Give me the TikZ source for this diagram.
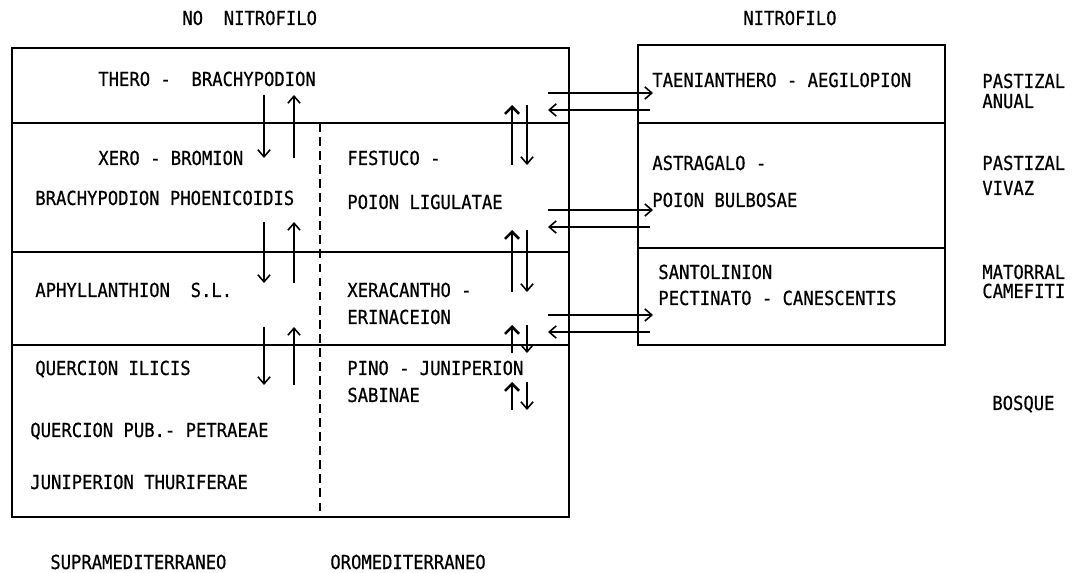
\documentclass[tikz,border=0pt]{standalone}
\usepackage{fontspec}
\setmonofont[FakeStretch=0.89,FakeBold=0.6]{DejaVu Sans Mono}
\usetikzlibrary{arrows.meta,calc,positioning}
\tikzset{
  etic/.style={font=\ttfamily\fontsize{11}{12}\selectfont, anchor=base west, inner sep=0pt},
  bordo/.style={line width=1.6pt},
  freccia/.style={line width=0.9pt, -{Straight Barb[length=4pt,width=7pt]}},
  frecciag/.style={line width=1.5pt, -{Straight Barb[length=4pt,width=8pt,line width=1.5pt]}}
}
\begin{document}
\begin{tikzpicture}[x=0.02cm,y=-0.02cm]
\useasboundingbox (0,0) rectangle (1074,573);
% riquadro no nitrofilo
\draw[bordo] (12,48) rectangle (569,517);
\foreach \y in {123,252,345}{
  \draw[bordo] (12,\y) -- (569,\y);
}
\draw[line width=0.8pt, dash pattern=on 5pt off 3pt] (320,123) -- (320,517);
% riquadro nitrofilo
\draw[bordo] (638,45) rectangle (945,345);
\foreach \y in {123,248}{
  \draw[bordo] (638,\y) -- (945,\y);
}
% testi
\foreach \nome/\x/\y/\testo in {
  nonitro/182/18/{NO\ \ NITROFILO}, nitro/743/18/NITROFILO,
  thero/98/79/{THERO -\ \ BRACHYPODION}, xero/98/158/{XERO - BROMION},
  phoen/35/198/{BRACHYPODION PHOENICOIDIS}, festuco/347/158/{FESTUCO -},
  ligul/347/202/{POION LIGULATAE}, aphyl/35/290/{APHYLLANTHION\ \ S.L.},
  xerac/347/290/{XERACANTHO -}, erin/347/317/ERINACEION,
  ilicis/35/368/{QUERCION ILICIS}, pino/347/368/{PINO - JUNIPERION},
  sabin/347/395/SABINAE, petr/30/430/{QUERCION PUB.- PETRAEAE},
  thurif/30/482/{JUNIPERION THURIFERAE},
  supra/50/562/SUPRAMEDITERRANEO, oro/330/562/OROMEDITERRANEO,
  taen/652/80/{TAENIANTHERO - AEGILOPION}, astr/652/163/{ASTRAGALO -},
  bulb/652/200/{POION BULBOSAE}, santol/658/272/SANTOLINION,
  pect/658/298/{PECTINATO - CANESCENTIS},
  past1/982/81/PASTIZAL, anual/982/101/ANUAL,
  past2/982/163/PASTIZAL, vivaz/982/188/VIVAZ,
  mator/982/272/MATORRAL, camef/982/291/CAMEFITI,
  bosque/992/403/BOSQUE
}{
  \node[etic] (\nome) at (\x,\y+7) {\testo};
}
% frecce verticali, piano supramediterraneo
\foreach \ya/\yb in {95/158, 222/283, 327/385}{
  \draw[freccia] (264,\ya) -- (264,\yb);
  \draw[freccia] (294,\yb) -- (294,\ya);
}
% frecce verticali, piano oromediterraneo
\foreach \ya/\yb in {105/165, 230/292, 325/353, 382/410}{
  \draw[frecciag] (512,\yb) -- (512,\ya);
  \draw[freccia] (527,\ya) -- (527,\yb);
}
% frecce verso il nitrofilo
\foreach \ya/\yb in {93/110, 210/227, 315/332}{
  \draw[freccia] (548,\ya) -- (653,\ya);
  \draw[freccia] (650,\yb) -- (548,\yb);
}
\end{tikzpicture}
\end{document}
